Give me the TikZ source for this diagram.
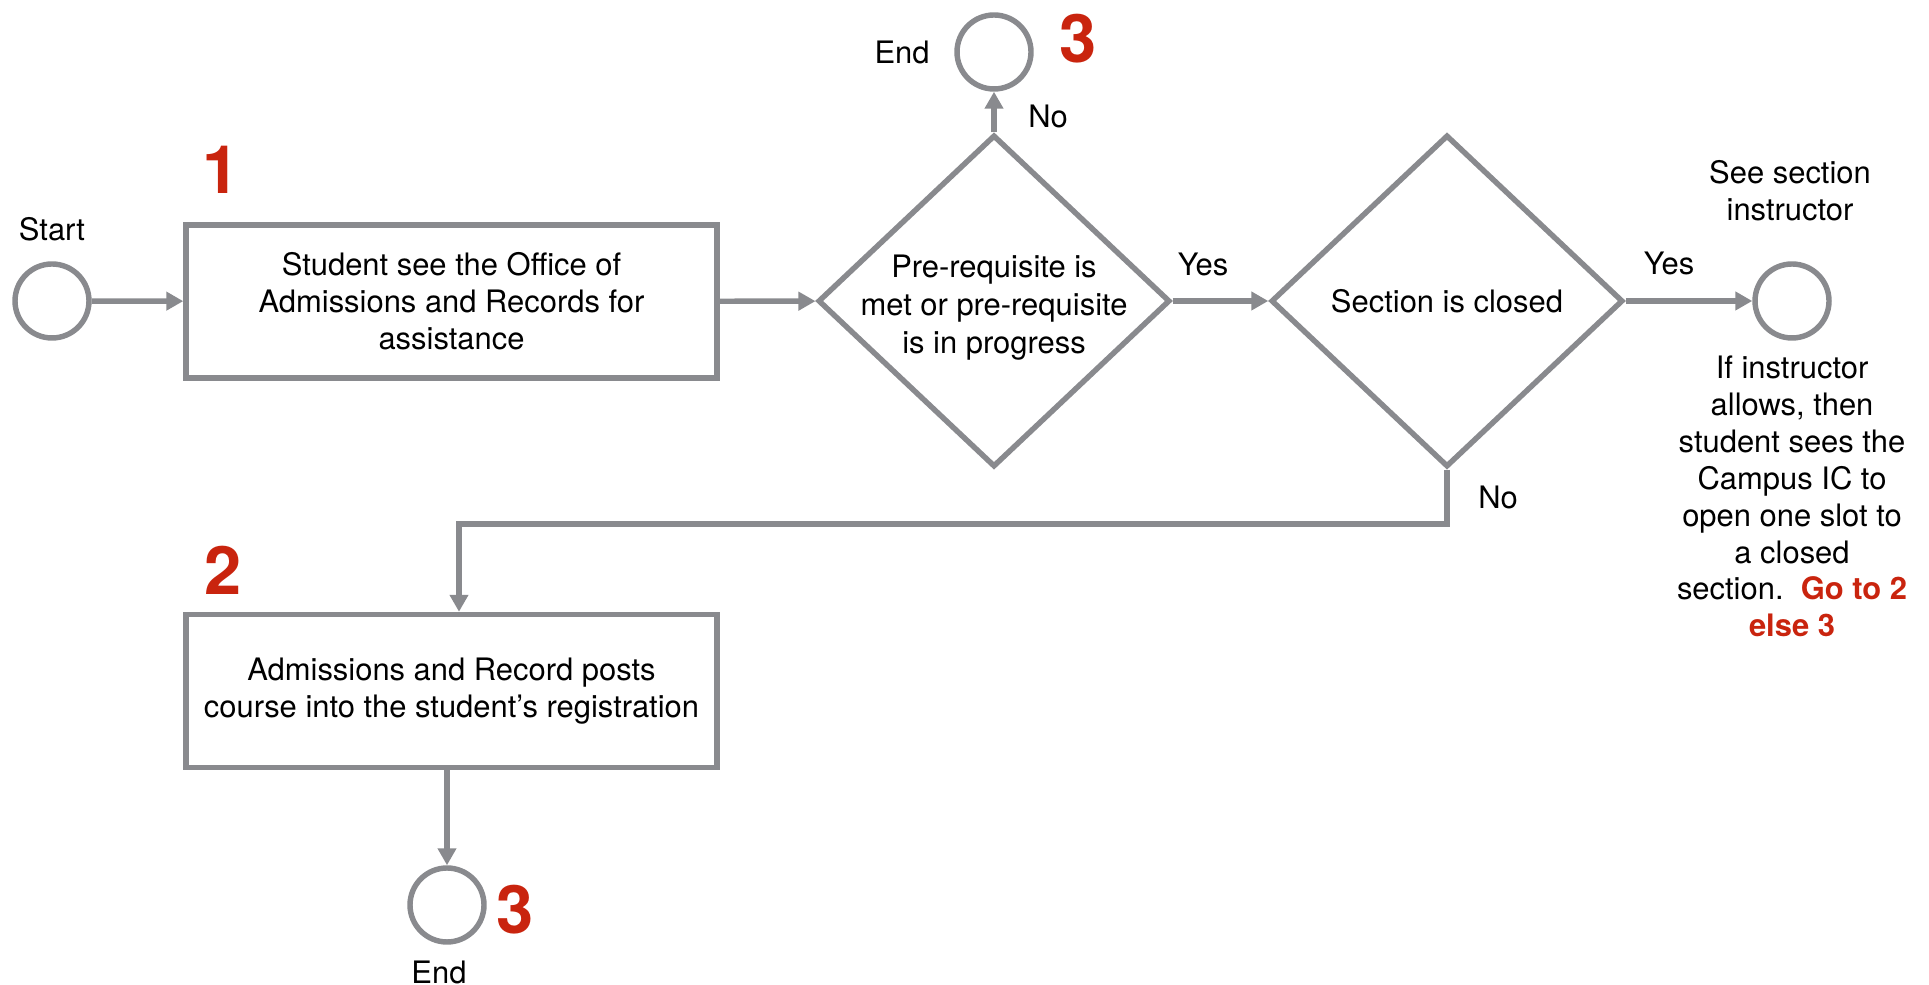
\documentclass[tikz,border=0pt]{standalone}
\usepackage{fontspec}
\setmainfont{TeX Gyre Heros}
\usetikzlibrary{shapes.geometric,arrows.meta,positioning}
\definecolor{linegray}{RGB}{137,138,142}
\definecolor{numred}{RGB}{201,36,14}
\tikzset{
    state/.style={circle, draw=linegray, line width=1.55pt, minimum size=0.74cm, inner sep=0pt},
    process/.style={rectangle, draw=linegray, line width=1.55pt, minimum width=5.31cm, minimum height=1.53cm, align=center},
    decision/.style={diamond, draw=linegray, line width=1.55pt, minimum width=3.52cm, minimum height=3.32cm, inner sep=0pt},
    flow/.style={linegray, line width=1.55pt, -{Triangle[length=0.17cm, width=0.18cm]}},
    stepnum/.style={numred, font=\fontsize{19}{22}\selectfont\bfseries},
}
\begin{document}
\begin{tikzpicture}[font=\fontsize{8.8}{10.5}\selectfont]
    \useasboundingbox (0,0) rectangle (19.29,9.85);
    % start and first step
    \node[state] (start) at (0.52,6.84) {};
    \node (startlbl) at (0.52,7.56) {Start};
    \node[process] (ask) at (4.515,6.835) {Student see the Office of\\Admissions and Records for\\assistance};
    \node[stepnum] (one) at (2.21,8.15) {1};
    \draw[flow] (start) -- (ask);

    % pre-requisite check
    \node[decision] (prereq) at (9.94,6.84) {};
    \node[align=center, font=\fontsize{8.8}{10.8}\selectfont] (prereqtxt) at (9.94,6.77) {Pre-requisite is\\met or pre-requisite\\is in progress};
    \draw[flow] (ask) -- (prereq);
    \node[state] (endtop) at (9.94,9.33) {};
    \node (endtoplbl) at (9.02,9.33) {End};
    \node[stepnum] (threetop) at (10.78,9.46) {3};
    \draw[flow] (prereq.north) -- (endtop);
    \node (nolbl) at (10.48,8.69) {No};

    % section closed check
    \node[decision] (closed) at (14.47,6.84) {};
    \node (closedtxt) at (closed) {Section is closed};
    \draw[flow] (prereq.east) -- (closed.west);
    \node (yeslbl) at (12.03,7.21) {Yes};

    % instructor
    \node[state] (instr) at (17.92,6.84) {};
    \draw[flow] (closed.east) -- (instr);
    \node (yesinstr) at (16.69,7.22) {Yes};
    \node[align=center] (seeinstr) at (17.90,7.945) {See section\\instructor};
    \node[align=center] (ifallow) at (17.92,4.885) {If instructor\\allows, then\\student sees the\\Campus IC to\\open one slot to\\a closed\\section.\ \ {\color{numred}\bfseries Go to 2}\\{\color{numred}\bfseries else 3}};

    % posting
    \node[process] (post) at (4.515,2.94) {Admissions and Record posts\\course into the student’s registration};
    \node[stepnum] (two) at (2.23,4.15) {2};
    \coordinate (bend) at (4.59,4.61);
    \draw[flow] (closed.south) |- (bend) -- (bend |- post.north);
    \node (noclosed) at (14.98,4.88) {No};

    % end
    \node[state] (endbot) at (4.47,0.80) {};
    \node (endbotlbl) at (4.39,0.13) {End};
    \node[stepnum] (threebot) at (5.15,0.75) {3};
    \draw[flow] (endbot |- post.south) -- (endbot);
\end{tikzpicture}
\end{document}
